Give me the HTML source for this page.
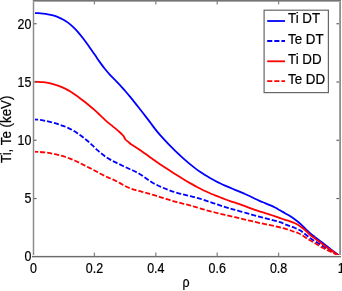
<!DOCTYPE html>
<html><head><meta charset="utf-8"><style>
html,body{margin:0;padding:0;background:#fff;width:342px;height:291px;overflow:hidden}
svg{position:absolute;left:0;top:0;will-change:transform;font-family:"Liberation Sans",sans-serif;font-size:14.5px}
</style></head><body>
<svg width="342" height="291" viewBox="0 0 342 291">
<rect x="0" y="0" width="342" height="291" fill="#fff"/>
<g fill="none" stroke-linejoin="round" stroke-width="1.8">
<path d="M33.00 13.00 C33.83 13.04 36.33 13.12 38.00 13.22 C39.67 13.33 41.33 13.44 43.00 13.62 C44.67 13.81 46.33 14.04 48.00 14.35 C49.67 14.66 51.33 15.01 53.00 15.48 C54.67 15.94 56.33 16.48 58.00 17.15 C59.67 17.82 61.33 18.56 63.00 19.48 C64.67 20.39 66.33 21.42 68.00 22.65 C69.67 23.88 71.33 25.28 73.00 26.85 C74.67 28.42 76.33 30.18 78.00 32.08 C79.67 33.97 81.33 36.07 83.00 38.23 C84.67 40.38 86.00 42.19 88.00 45.00 C90.00 47.81 93.00 52.20 95.00 55.09 C97.00 57.98 98.33 60.03 100.00 62.35 C101.67 64.67 103.33 66.92 105.00 69.00 C106.67 71.08 108.33 72.98 110.00 74.80 C111.67 76.62 113.33 78.22 115.00 79.92 C116.67 81.63 118.33 83.25 120.00 85.05 C121.67 86.85 123.33 88.81 125.00 90.75 C126.67 92.69 128.33 94.66 130.00 96.68 C131.67 98.69 133.33 100.73 135.00 102.83 C136.67 104.92 138.33 107.15 140.00 109.28 C141.67 111.40 143.33 113.45 145.00 115.60 C146.67 117.75 148.33 119.94 150.00 122.15 C151.67 124.36 153.33 126.72 155.00 128.85 C156.67 130.98 158.33 132.99 160.00 134.93 C161.67 136.86 163.33 138.65 165.00 140.45 C166.67 142.25 168.33 144.03 170.00 145.73 C171.67 147.43 173.33 149.05 175.00 150.65 C176.67 152.25 178.33 153.77 180.00 155.30 C181.67 156.83 183.33 158.37 185.00 159.85 C186.67 161.33 188.33 162.80 190.00 164.18 C191.67 165.55 193.33 166.88 195.00 168.12 C196.67 169.38 198.33 170.54 200.00 171.68 C201.67 172.81 203.33 173.88 205.00 174.93 C206.67 175.97 208.33 176.98 210.00 177.95 C211.67 178.92 213.33 179.83 215.00 180.73 C216.67 181.62 218.33 182.48 220.00 183.30 C221.67 184.12 223.33 184.89 225.00 185.62 C226.67 186.36 228.33 187.00 230.00 187.70 C231.67 188.40 233.33 189.10 235.00 189.80 C236.67 190.50 238.33 191.21 240.00 191.90 C241.67 192.59 243.33 193.22 245.00 193.95 C246.67 194.67 248.33 195.45 250.00 196.25 C251.67 197.05 253.33 197.95 255.00 198.75 C256.67 199.55 258.33 200.33 260.00 201.05 C261.67 201.77 263.33 202.37 265.00 203.05 C266.67 203.73 268.33 204.37 270.00 205.12 C271.67 205.88 273.33 206.71 275.00 207.57 C276.67 208.44 278.33 209.39 280.00 210.32 C281.67 211.26 283.33 212.25 285.00 213.20 C286.67 214.15 288.33 214.95 290.00 216.00 C291.67 217.05 293.33 218.25 295.00 219.50 C296.67 220.75 298.33 222.03 300.00 223.50 C301.67 224.97 303.33 226.68 305.00 228.30 C306.67 229.92 308.33 231.73 310.00 233.20 C311.67 234.67 313.33 235.82 315.00 237.10 C316.67 238.38 318.33 239.63 320.00 240.90 C321.67 242.17 323.33 243.42 325.00 244.70 C326.67 245.98 328.33 247.30 330.00 248.60 C331.67 249.90 333.33 251.18 335.00 252.50 C336.67 253.82 339.17 255.83 340.00 256.50" stroke="#0000ff"/>
<path d="M33.00 119.20 C33.83 119.29 36.33 119.52 38.00 119.72 C39.67 119.92 41.33 120.12 43.00 120.40 C44.67 120.68 46.33 121.01 48.00 121.40 C49.67 121.79 51.33 122.25 53.00 122.72 C54.67 123.20 56.33 123.70 58.00 124.22 C59.67 124.75 61.33 125.25 63.00 125.85 C64.67 126.45 66.33 127.05 68.00 127.83 C69.67 128.60 71.33 129.49 73.00 130.47 C74.67 131.46 76.33 132.59 78.00 133.72 C79.67 134.86 81.33 136.01 83.00 137.27 C84.67 138.54 86.33 139.85 88.00 141.30 C89.67 142.75 91.33 144.39 93.00 145.95 C94.67 147.51 96.33 149.17 98.00 150.65 C99.67 152.13 101.33 153.55 103.00 154.82 C104.67 156.10 106.33 157.25 108.00 158.30 C109.67 159.35 111.33 160.22 113.00 161.10 C114.67 161.97 116.33 162.74 118.00 163.55 C119.67 164.36 121.33 165.18 123.00 165.97 C124.67 166.77 126.33 167.55 128.00 168.30 C129.67 169.05 131.33 169.72 133.00 170.50 C134.67 171.28 136.33 172.06 138.00 173.00 C139.67 173.94 141.33 175.03 143.00 176.15 C144.67 177.27 146.33 178.57 148.00 179.70 C149.67 180.83 151.33 181.97 153.00 182.95 C154.67 183.92 156.33 184.75 158.00 185.55 C159.67 186.35 161.33 187.05 163.00 187.75 C164.67 188.45 166.33 189.12 168.00 189.75 C169.67 190.38 171.33 190.99 173.00 191.55 C174.67 192.11 176.33 192.62 178.00 193.10 C179.67 193.58 181.33 194.00 183.00 194.43 C184.67 194.85 186.33 195.25 188.00 195.65 C189.67 196.05 191.33 196.42 193.00 196.82 C194.67 197.23 196.33 197.63 198.00 198.10 C199.67 198.57 201.33 199.11 203.00 199.65 C204.67 200.19 206.33 200.79 208.00 201.35 C209.67 201.91 211.33 202.47 213.00 203.03 C214.67 203.58 216.33 204.14 218.00 204.70 C219.67 205.26 221.33 205.84 223.00 206.38 C224.67 206.91 226.33 207.43 228.00 207.93 C229.67 208.42 231.00 208.76 233.00 209.32 C235.00 209.87 237.17 210.45 240.00 211.26 C242.83 212.06 246.67 213.21 250.00 214.15 C253.33 215.09 256.67 216.01 260.00 216.88 C263.33 217.74 266.67 218.47 270.00 219.35 C273.33 220.23 277.50 221.38 280.00 222.18 C282.50 222.99 283.33 223.53 285.00 224.20 C286.67 224.87 288.33 225.57 290.00 226.20 C291.67 226.83 293.33 227.32 295.00 228.00 C296.67 228.68 298.33 229.30 300.00 230.30 C301.67 231.30 303.33 232.72 305.00 234.00 C306.67 235.28 308.33 236.78 310.00 238.00 C311.67 239.22 313.33 240.25 315.00 241.30 C316.67 242.35 318.33 243.28 320.00 244.30 C321.67 245.32 323.33 246.40 325.00 247.40 C326.67 248.40 328.33 249.33 330.00 250.30 C331.67 251.27 333.33 252.17 335.00 253.20 C336.67 254.23 339.17 255.95 340.00 256.50" stroke="#0000ff" stroke-dasharray="5.1 2.0"/>
<path d="M33.00 81.70 C33.83 81.71 36.33 81.70 38.00 81.78 C39.67 81.85 41.33 81.94 43.00 82.12 C44.67 82.31 46.33 82.58 48.00 82.90 C49.67 83.23 51.33 83.62 53.00 84.08 C54.67 84.53 56.33 85.03 58.00 85.62 C59.67 86.22 61.33 86.88 63.00 87.62 C64.67 88.38 66.33 89.20 68.00 90.12 C69.67 91.05 71.33 92.08 73.00 93.17 C74.67 94.27 76.33 95.50 78.00 96.72 C79.67 97.95 81.33 99.23 83.00 100.53 C84.67 101.82 86.00 102.84 88.00 104.49 C90.00 106.14 93.00 108.68 95.00 110.44 C97.00 112.21 98.33 113.52 100.00 115.08 C101.67 116.63 103.33 118.30 105.00 119.80 C106.67 121.30 108.33 122.70 110.00 124.10 C111.67 125.50 113.33 126.78 115.00 128.18 C116.67 129.58 118.62 131.23 120.00 132.50 C121.38 133.77 122.38 134.63 123.30 135.80 C124.22 136.97 124.67 138.48 125.50 139.50 C126.33 140.52 127.38 141.10 128.30 141.90 C129.22 142.70 129.88 143.50 131.00 144.30 C132.12 145.10 133.50 145.76 135.00 146.72 C136.50 147.67 138.33 148.89 140.00 150.03 C141.67 151.16 143.33 152.36 145.00 153.55 C146.67 154.74 148.33 155.98 150.00 157.18 C151.67 158.38 153.33 159.58 155.00 160.75 C156.67 161.92 158.33 163.05 160.00 164.18 C161.67 165.30 163.33 166.40 165.00 167.50 C166.67 168.60 168.33 169.68 170.00 170.75 C171.67 171.82 173.33 172.85 175.00 173.90 C176.67 174.95 178.33 176.02 180.00 177.07 C181.67 178.12 183.33 179.20 185.00 180.20 C186.67 181.20 188.33 182.15 190.00 183.10 C191.67 184.05 193.33 184.97 195.00 185.88 C196.67 186.78 198.33 187.69 200.00 188.55 C201.67 189.41 203.33 190.26 205.00 191.05 C206.67 191.84 208.33 192.57 210.00 193.28 C211.67 193.98 213.33 194.63 215.00 195.30 C216.67 195.97 218.33 196.62 220.00 197.28 C221.67 197.93 223.33 198.59 225.00 199.22 C226.67 199.86 228.33 200.49 230.00 201.07 C231.67 201.66 233.33 202.17 235.00 202.72 C236.67 203.28 238.33 203.80 240.00 204.38 C241.67 204.95 243.33 205.56 245.00 206.18 C246.67 206.79 248.33 207.43 250.00 208.05 C251.67 208.68 253.33 209.33 255.00 209.93 C256.67 210.52 258.33 211.07 260.00 211.60 C261.67 212.12 263.33 212.57 265.00 213.07 C266.67 213.58 268.33 214.09 270.00 214.62 C271.67 215.16 273.33 215.73 275.00 216.30 C276.67 216.87 278.33 217.44 280.00 218.03 C281.67 218.61 283.33 219.25 285.00 219.80 C286.67 220.35 288.33 220.72 290.00 221.30 C291.67 221.88 293.33 222.48 295.00 223.30 C296.67 224.12 298.33 225.08 300.00 226.20 C301.67 227.32 303.33 228.57 305.00 230.00 C306.67 231.43 308.33 233.37 310.00 234.80 C311.67 236.23 313.33 237.35 315.00 238.60 C316.67 239.85 318.33 241.07 320.00 242.30 C321.67 243.53 323.33 244.78 325.00 246.00 C326.67 247.22 328.33 248.42 330.00 249.60 C331.67 250.78 333.33 251.95 335.00 253.10 C336.67 254.25 339.17 255.93 340.00 256.50" stroke="#ff0000"/>
<path d="M33.00 151.60 C34.17 151.66 38.00 151.84 40.00 151.98 C42.00 152.12 43.33 152.26 45.00 152.45 C46.67 152.64 48.33 152.88 50.00 153.15 C51.67 153.42 53.33 153.72 55.00 154.07 C56.67 154.43 58.33 154.82 60.00 155.27 C61.67 155.72 63.33 156.22 65.00 156.77 C66.67 157.33 68.33 157.94 70.00 158.60 C71.67 159.26 73.33 159.98 75.00 160.72 C76.67 161.47 78.33 162.26 80.00 163.07 C81.67 163.89 83.33 164.75 85.00 165.60 C86.67 166.45 88.33 167.31 90.00 168.17 C91.67 169.04 93.33 169.89 95.00 170.77 C96.67 171.66 98.33 172.60 100.00 173.47 C101.67 174.35 103.33 175.25 105.00 176.05 C106.67 176.85 108.33 177.54 110.00 178.28 C111.67 179.01 113.33 179.67 115.00 180.48 C116.67 181.28 118.33 182.21 120.00 183.12 C121.67 184.04 123.33 185.10 125.00 185.95 C126.67 186.80 128.33 187.59 130.00 188.25 C131.67 188.91 133.33 189.40 135.00 189.90 C136.67 190.40 138.33 190.79 140.00 191.22 C141.67 191.66 143.33 192.07 145.00 192.53 C146.67 192.98 148.33 193.44 150.00 193.93 C151.67 194.41 153.33 194.91 155.00 195.43 C156.67 195.94 158.33 196.50 160.00 197.03 C161.67 197.55 163.33 198.09 165.00 198.60 C166.67 199.11 168.33 199.58 170.00 200.07 C171.67 200.57 173.33 201.08 175.00 201.55 C176.67 202.03 178.33 202.49 180.00 202.93 C181.67 203.36 183.33 203.73 185.00 204.15 C186.67 204.57 188.33 204.97 190.00 205.43 C191.67 205.88 192.50 206.13 195.00 206.87 C197.50 207.60 201.67 208.89 205.00 209.82 C208.33 210.76 211.67 211.65 215.00 212.50 C218.33 213.35 221.67 214.14 225.00 214.93 C228.33 215.71 231.67 216.45 235.00 217.22 C238.33 218.00 241.67 218.77 245.00 219.55 C248.33 220.33 251.67 221.17 255.00 221.93 C258.33 222.68 261.67 223.39 265.00 224.10 C268.33 224.81 271.67 225.45 275.00 226.20 C278.33 226.95 282.00 227.75 285.00 228.60 C288.00 229.45 290.83 230.57 293.00 231.30 C295.17 232.03 296.33 232.25 298.00 233.00 C299.67 233.75 301.33 234.77 303.00 235.80 C304.67 236.83 306.33 238.17 308.00 239.20 C309.67 240.23 311.33 241.03 313.00 242.00 C314.67 242.97 316.33 244.00 318.00 245.00 C319.67 246.00 321.33 247.08 323.00 248.00 C324.67 248.92 326.17 249.63 328.00 250.50 C329.83 251.37 332.00 252.20 334.00 253.20 C336.00 254.20 339.00 255.95 340.00 256.50" stroke="#ff0000" stroke-dasharray="5.1 2.0"/>
</g>
<g stroke="none">
<rect x="32" y="0" width="1" height="257" fill="#e4e4e4"/>
<rect x="34" y="2" width="1" height="254" fill="#e4e4e4"/>
<rect x="33" y="0" width="1" height="257" fill="#8a8a8a"/>
<rect x="339" y="0" width="1" height="257" fill="#a2a2a2"/>
<rect x="340" y="0" width="1" height="257" fill="#8e8e8e"/>
<rect x="33" y="0" width="308" height="1" fill="#747474"/>
<rect x="33" y="1" width="308" height="1" fill="#a8a8a8"/>
<rect x="33" y="255" width="308" height="1" fill="#f0f0f0"/>
<rect x="32" y="256" width="309" height="1" fill="#6c6c6c"/>
<rect x="32" y="257" width="309" height="1" fill="#cccccc"/>
<line x1="94.40" y1="256" x2="94.40" y2="252.6" stroke="#888" stroke-width="1.3"/><line x1="94.40" y1="1" x2="94.40" y2="4.4" stroke="#888" stroke-width="1.3"/><line x1="155.80" y1="256" x2="155.80" y2="252.6" stroke="#888" stroke-width="1.3"/><line x1="155.80" y1="1" x2="155.80" y2="4.4" stroke="#888" stroke-width="1.3"/><line x1="217.20" y1="256" x2="217.20" y2="252.6" stroke="#888" stroke-width="1.3"/><line x1="217.20" y1="1" x2="217.20" y2="4.4" stroke="#888" stroke-width="1.3"/><line x1="278.60" y1="256" x2="278.60" y2="252.6" stroke="#888" stroke-width="1.3"/><line x1="278.60" y1="1" x2="278.60" y2="4.4" stroke="#888" stroke-width="1.3"/><line x1="34" y1="198.54" x2="36.6" y2="198.54" stroke="#606060" stroke-width="1.15"/><line x1="336.4" y1="198.54" x2="339" y2="198.54" stroke="#606060" stroke-width="1.15"/><line x1="34" y1="140.27" x2="36.6" y2="140.27" stroke="#606060" stroke-width="1.15"/><line x1="336.4" y1="140.27" x2="339" y2="140.27" stroke="#606060" stroke-width="1.15"/><line x1="34" y1="82.00" x2="36.6" y2="82.00" stroke="#606060" stroke-width="1.15"/><line x1="336.4" y1="82.00" x2="339" y2="82.00" stroke="#606060" stroke-width="1.15"/><line x1="34" y1="23.74" x2="36.6" y2="23.74" stroke="#606060" stroke-width="1.15"/><line x1="336.4" y1="23.74" x2="339" y2="23.74" stroke="#606060" stroke-width="1.15"/>
</g>
<g fill="#000" stroke="#000" stroke-width="0.22">
<text transform="translate(31.40,261.30) scale(0.86,1.0)" text-anchor="end">0</text><text transform="translate(31.40,203.30) scale(0.86,1.0)" text-anchor="end">5</text><text transform="translate(31.40,145.30) scale(0.86,1.0)" text-anchor="end">10</text><text transform="translate(31.40,87.30) scale(0.86,1.0)" text-anchor="end">15</text><text transform="translate(31.40,29.30) scale(0.86,1.0)" text-anchor="end">20</text>
<text transform="translate(33.40,273.20) scale(0.86,1.0)" text-anchor="middle">0</text><text transform="translate(94.40,273.20) scale(0.86,1.0)" text-anchor="middle">0.2</text><text transform="translate(155.80,273.20) scale(0.86,1.0)" text-anchor="middle">0.4</text><text transform="translate(217.20,273.20) scale(0.86,1.0)" text-anchor="middle">0.6</text><text transform="translate(278.60,273.20) scale(0.86,1.0)" text-anchor="middle">0.8</text><text transform="translate(341.20,273.20) scale(0.86,1.0)" text-anchor="middle">1</text>
<text transform="translate(186,286.5) scale(0.86,1)" text-anchor="middle">&#961;</text>
<text transform="translate(11.0,129.3) rotate(-90) scale(0.92,1)" text-anchor="middle">Ti, Te (keV)</text>
</g>
<rect x="264.1" y="10.2" width="64.3" height="82.4" fill="#fff" stroke="#676767" stroke-width="1.2"/>
<g fill="#000" stroke="#000" stroke-width="0.22">
<line x1="267.2" y1="21" x2="285" y2="21" stroke="#0000ff" stroke-width="1.8"/><text transform="translate(288.00,22.80) scale(0.92,1.0)" text-anchor="start">Ti DT</text><line x1="267.2" y1="41" x2="285" y2="41" stroke="#0000ff" stroke-width="1.8" stroke-dasharray="5.1 2.0"/><text transform="translate(288.00,43.60) scale(0.92,1.0)" text-anchor="start">Te DT</text><line x1="267.2" y1="61.3" x2="285" y2="61.3" stroke="#ff0000" stroke-width="1.8"/><text transform="translate(288.00,63.90) scale(0.92,1.0)" text-anchor="start">Ti DD</text><line x1="267.2" y1="81.2" x2="285" y2="81.2" stroke="#ff0000" stroke-width="1.8" stroke-dasharray="5.1 2.0"/><text transform="translate(288.00,84.40) scale(0.92,1.0)" text-anchor="start">Te DD</text>
</g>
</svg>
</body></html>
